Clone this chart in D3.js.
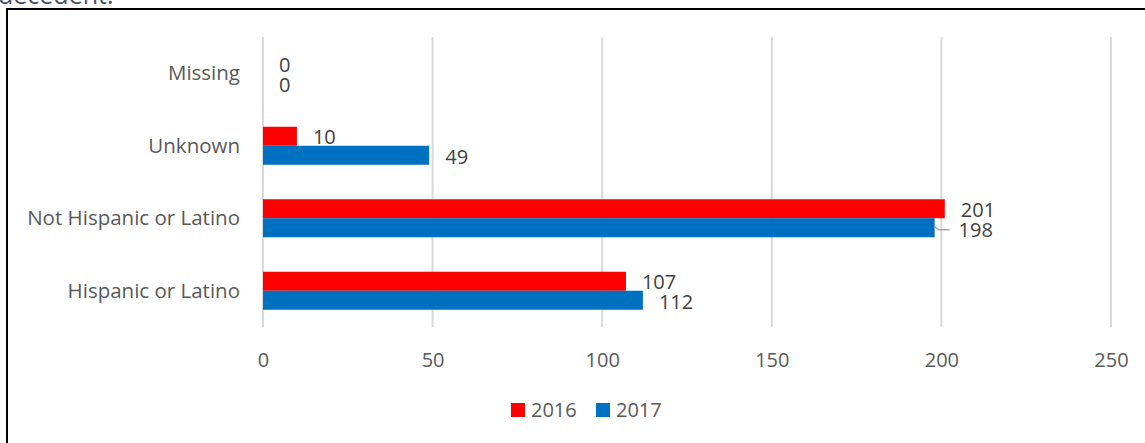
<!DOCTYPE html>
<html>
<head>
<meta charset="utf-8">
<script src="https://cdn.jsdelivr.net/npm/d3@7"></script>
<style>
  body { margin: 0; background: #fff; }
  text { font-family: "Open Sans", "Noto Sans", sans-serif; }
</style>
</head>
<body>
<div id="chart"></div>
<script>
// Data
const categories = ['Missing', 'Unknown', 'Not Hispanic or Latino', 'Hispanic or Latino']
const seriesNames = ['2016', '2017']
const values2016 = [0, 10, 201, 107]
const values2017 = [0, 49, 198, 112]
const xTicks = [0, 50, 100, 150, 200, 250]
const colors = ['#ff0000', '#0070c0']

const width = 1145
const height = 443
const margin = { top: 37, right: 34, bottom: 116, left: 263 }
const textColor = '#595959'

const svg = d3.select('#chart')
  .append('svg')
    .attr('width', width)
    .attr('height', height)

// cut-off caption line above the frame
svg.append('text')
  .attr('x', -2)
  .attr('y', 4)
  .attr('font-size', 25)
  .attr('fill', '#44546a')
  .text('decedent.')

// frame (left + top only visible)
svg.append('path')
  .attr('d', `M7,${height} V9 H${width}`)
  .attr('fill', 'none')
  .attr('stroke', '#000')
  .attr('stroke-width', 2)

const x = d3.scaleLinear()
  .domain([0, 250])
  .range([margin.left, width - margin.right])

const y = d3.scaleBand()
  .domain(categories)
  .range([37, 327])
  .paddingInner(0)

const barH = 19
const sub = d3.scaleBand()
  .domain(seriesNames)
  .range([0, barH * 2])

// grid
svg.append('g')
  .selectAll('line')
  .data(xTicks)
  .enter()
  .append('line')
    .attr('x1', d => x(d))
    .attr('x2', d => x(d))
    .attr('y1', margin.top)
    .attr('y2', 327)
    .attr('stroke', '#d9d9d9')
    .attr('stroke-width', 2)

// x axis labels
const xAxis = svg.append('g')
  .attr('transform', 'translate(0,360)')
  .call(d3.axisBottom(x).tickValues(xTicks).tickSize(0).tickPadding(0))
xAxis.select('.domain').remove()
xAxis.selectAll('text')
  .attr('font-size', 20)
  .attr('fill', textColor)
  .attr('dy', '0.35em')
  .attr('y', 0)
  .attr('font-family', '"Open Sans", sans-serif')

// category labels
svg.append('g')
  .selectAll('text')
  .data(categories)
  .enter()
  .append('text')
    .attr('x', 240)
    .attr('y', d => y(d) + y.bandwidth() / 2)
    .attr('dy', '0.35em')
    .attr('text-anchor', 'end')
    .attr('font-size', 20.5)
    .attr('fill', textColor)
    .text(d => d)

const series = [values2016, values2017]

series.forEach((vals, s) => {
  const g = svg.append('g')
  const off = y.bandwidth() / 2 - barH
  g.selectAll('rect')
    .data(vals)
    .enter()
    .append('rect')
      .attr('x', x(0))
      .attr('y', (d, i) => y(categories[i]) + off + sub(seriesNames[s]))
      .attr('width', d => x(d) - x(0))
      .attr('height', barH)
      .attr('fill', colors[s])

  g.selectAll('text')
    .data(vals)
    .enter()
    .append('text')
      .attr('x', d => x(d) + 16)
      .attr('y', (d, i) => y(categories[i]) + off + sub(seriesNames[s]) + barH / 2 + (s === 0 ? 1 : 2))
      .attr('dy', '0.35em')
      .attr('font-size', 20)
      .attr('fill', '#404040')
      .text(d => d)
})

// leader line for the 198 label
const nh = categories[2]
const yLead = y(nh) + y.bandwidth() / 2 - barH + sub('2017') + barH / 2 + 2
svg.append('path')
  .attr('d', `M${x(198)},${yLead - 3} L${x(198) + 4},${yLead} H${x(198) + 15}`)
  .attr('fill', 'none')
  .attr('stroke', '#a6a6a6')
  .attr('stroke-width', 1.5)
svg.selectAll('text').filter(function () { return this.textContent === '198' })
  .attr('x', x(198) + 24)

// legend
const legend = svg.append('g').attr('transform', 'translate(511,410)')
seriesNames.forEach((name, i) => {
  const lg = legend.append('g').attr('transform', `translate(${i * 85},0)`)
  lg.append('rect')
    .attr('x', 0)
    .attr('y', -7)
    .attr('width', 14)
    .attr('height', 14)
    .attr('fill', colors[i])
  lg.append('text')
    .attr('x', 20)
    .attr('y', 0)
    .attr('dy', '0.35em')
    .attr('font-size', 20)
    .attr('fill', textColor)
    .text(name)
})
</script>
</body>
</html>
